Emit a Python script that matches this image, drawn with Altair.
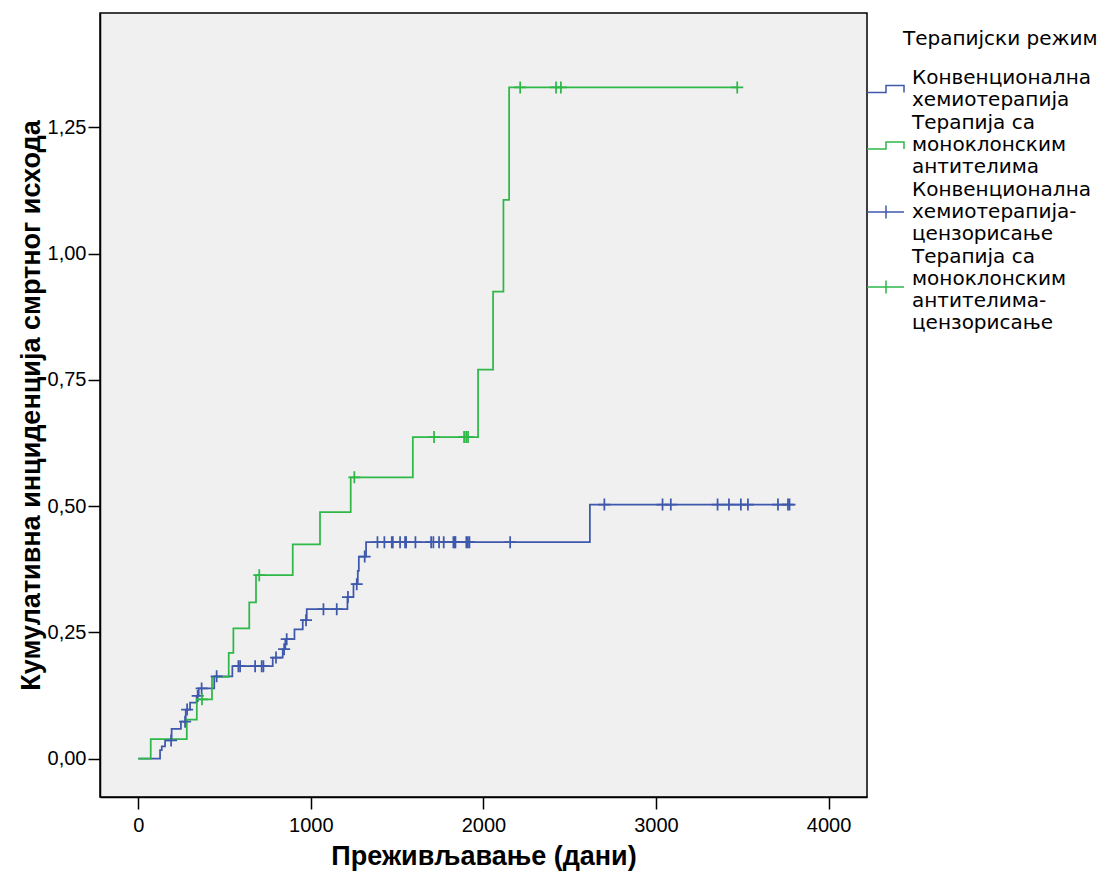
import altair as alt
import pandas as pd

BLUE = "#3E58AC"
GREEN = "#2EB848"

GROUPS = ["Конвенционална хемиотерапија", "Терапија са моноклонским антителима"]

# Conventional chemotherapy: step times (days) and cumulative incidence after each step
conv_t = [0, 126, 136, 155, 193, 247, 275, 300, 338, 350, 440, 545, 779, 837, 852,
          905, 953, 976, 1212, 1247, 1272, 1278, 1320, 2617, 3774]
conv_v = [0.0, 0.0165, 0.0244, 0.036, 0.059, 0.073, 0.097, 0.111, 0.124, 0.139, 0.163,
          0.183, 0.200, 0.2167, 0.2365, 0.2557, 0.274, 0.296, 0.320, 0.3455, 0.372,
          0.400, 0.4286, 0.503, 0.503]
# Conventional chemotherapy: censored observations
conv_ct = [190, 271, 283, 344, 367, 454, 580, 590, 677, 715, 725, 798, 845, 860, 972,
           1073, 1150, 1215, 1266, 1312,
           1386, 1426, 1469, 1475, 1517, 1546, 1552, 1606, 1697, 1710, 1743, 1770,
           1826, 1834, 1838, 1901, 1910, 1919, 2155,
           2701, 3038, 3086, 3357, 3423, 3492, 3533, 3707, 3765, 3774]
conv_cv = [0.036, 0.073, 0.097, 0.124, 0.139, 0.163, 0.183, 0.183, 0.183, 0.183, 0.183,
           0.200, 0.2167, 0.2365, 0.274, 0.296, 0.296, 0.320, 0.3455, 0.400,
           0.4286, 0.4286, 0.4286, 0.4286, 0.4286, 0.4286, 0.4286, 0.4286, 0.4286,
           0.4286, 0.4286, 0.4286, 0.4286, 0.4286, 0.4286, 0.4286, 0.4286, 0.4286,
           0.4286,
           0.503, 0.503, 0.503, 0.503, 0.503, 0.503, 0.503, 0.503, 0.503, 0.503]

# Monoclonal antibody therapy
mab_t = [0, 72, 281, 339, 427, 524, 551, 643, 682, 895, 1053, 1231, 1591, 1969, 2056,
         2116, 2149, 3471]
mab_v = [0.0, 0.0383, 0.0773, 0.1175, 0.1617, 0.2093, 0.2577, 0.3092, 0.3633, 0.4242,
         0.4882, 0.557, 0.6369, 0.7703, 0.9249, 1.1067, 1.3292, 1.3292]
mab_ct = [369, 701, 1252, 1714, 1888, 1900, 1911, 2213, 2421, 2449, 3471]
mab_cv = [0.1175, 0.3633, 0.557, 0.6369, 0.6369, 0.6369, 0.6369, 1.3292, 1.3292,
          1.3292, 1.3292]

LEGEND_ENTRIES = [
    "Конвенционална|хемиотерапија",
    "Терапија са|моноклонским|антителима",
    "Конвенционална|хемиотерапија-|цензорисање",
    "Терапија са|моноклонским|антителима-|цензорисање",
]
LEGEND_TITLE = "Терапијски режим"

X_TICKS = [0, 1000, 2000, 3000, 4000]
Y_TICKS = [0.0, 0.25, 0.5, 0.75, 1.0, 1.25]


def step_symbol(off):
    return f"M-1,{off + 0.34:.2f}H0.9V{off - 0.34:.2f}H2.7V{off + 0.34:.2f}"


def cross_symbol(off):
    return f"M-1,{off:.2f}H2.7M0.9,{off - 0.65:.2f}V{off + 0.65:.2f}"


LEGEND_SHAPES = [step_symbol(1.1), step_symbol(2.25), cross_symbol(2.2), cross_symbol(3.0)]
CROSS_PLOT = "M-1,0H1M0,-1V1"

line_df = pd.concat([
    pd.DataFrame({"t": conv_t, "v": conv_v, "g": GROUPS[0]}),
    pd.DataFrame({"t": mab_t, "v": mab_v, "g": GROUPS[1]}),
], ignore_index=True)
cens_df = pd.concat([
    pd.DataFrame({"t": conv_ct, "v": conv_cv, "g": GROUPS[0]}),
    pd.DataFrame({"t": mab_ct, "v": mab_cv, "g": GROUPS[1]}),
], ignore_index=True)
leg_df = pd.DataFrame({"entry": LEGEND_ENTRIES})

x_scale = alt.Scale(domain=[-222, 4223], nice=False, zero=False)
y_scale = alt.Scale(domain=[-0.0761, 1.4767], nice=False, zero=False)
grp_scale = alt.Scale(domain=GROUPS, range=[BLUE, GREEN])

x_axis = alt.Axis(values=X_TICKS, format="d", title="Преживљавање (дани)", grid=False,
                  tickSize=12, labelPadding=6, titlePadding=8)
y_axis = alt.Axis(values=Y_TICKS, labelExpr="replace(format(datum.value, '.2f'), '.', ',')",
                  title="Кумулативна инциденција смртног исхода", grid=False,
                  tickSize=12, labelPadding=2, titlePadding=2)

lines = alt.Chart(line_df).mark_line(interpolate="step-after", strokeWidth=1.75).encode(
    x=alt.X("t:Q", scale=x_scale, axis=x_axis),
    y=alt.Y("v:Q", scale=y_scale, axis=y_axis),
    color=alt.Color("g:N", scale=grp_scale, legend=None),
)

cens = alt.Chart(cens_df).mark_point(shape=CROSS_PLOT, size=144, filled=False,
                                     strokeWidth=1.75, opacity=1).encode(
    x=alt.X("t:Q", scale=x_scale),
    y=alt.Y("v:Q", scale=y_scale),
    color=alt.Color("g:N", scale=grp_scale, legend=None),
)

legend = alt.Legend(title=None, orient="none", legendX=766, legendY=54,
                    labelExpr="split(datum.label, '|')")

leg = alt.Chart(leg_df).mark_point(filled=False, size=400, strokeWidth=1.5, opacity=1,
                                   clip=True).encode(
    x=alt.value(-300),
    y=alt.value(-300),
    color=alt.Color("entry:N", scale=alt.Scale(domain=LEGEND_ENTRIES,
                                               range=[BLUE, GREEN, BLUE, GREEN]),
                    legend=legend),
    shape=alt.Shape("entry:N", scale=alt.Scale(domain=LEGEND_ENTRIES, range=LEGEND_SHAPES),
                    legend=legend),
)

chart = alt.layer(lines, cens, leg).resolve_scale(
    color="independent", shape="independent"
).properties(
    width=767, height=784,
    padding={"left": 92, "top": 5, "right": 237, "bottom": 74},
    autosize=alt.AutoSizeParams(type="none"),
    title=alt.TitleParams(text=LEGEND_TITLE, anchor="start", frame="group", orient="top",
                          dx=803, dy=36, offset=0, font="DejaVu Sans", fontSize=20,
                          fontWeight="normal", color="black"),
).configure_view(
    fill="#F0F0F0", stroke="black", strokeWidth=1.5
).configure_axis(
    labelFont="Liberation Sans", labelFontSize=20, labelColor="black",
    titleFont="Liberation Sans", titleFontSize=27, titleFontWeight="bold", titleColor="black",
    tickColor="black", tickWidth=1.5, domainColor="black", domainWidth=1.5,
).configure_legend(
    labelFont="DejaVu Sans", labelFontSize=20, labelColor="black", labelLimit=0,
    labelOffset=24, rowPadding=2, padding=0,
    symbolStrokeWidth=1.5, symbolSize=400,
)

chart.save("out.html", embed_options={"renderer": "svg", "actions": False})
